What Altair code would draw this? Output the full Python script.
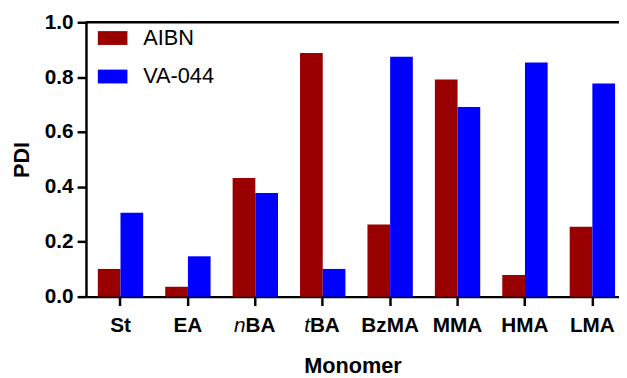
import altair as alt
import pandas as pd

monomers = ["St", "EA", "nBA", "tBA", "BzMA", "MMA", "HMA", "LMA"]
aibn = [0.101, 0.036, 0.432, 0.888, 0.263, 0.791, 0.079, 0.255]
va044 = [0.306, 0.147, 0.378, 0.101, 0.874, 0.691, 0.853, 0.777]
series = ["AIBN", "VA-044"]
colors = ["#990000", "#0000FF"]
y_ticks = [0.0, 0.2, 0.4, 0.6, 0.8, 1.0]
italic_monomers = ["nBA", "tBA"]
italic_prefix = ["n", "t"]
italic_rest = ["BA", "BA"]

FONT = "Liberation Sans"

rows = []
for m, a, v in zip(monomers, aibn, va044):
    rows.append({"monomer": m, "series": series[0], "value": a})
    rows.append({"monomer": m, "series": series[1], "value": v})
df = pd.DataFrame(rows)

xscale = alt.Scale(domain=monomers, paddingInner=0.327, paddingOuter=0.117, align=0.75)
yscale = alt.Scale(domain=[0, 1], nice=False)

bars = alt.Chart(df).mark_bar().encode(
    x=alt.X(
        "monomer:N",
        scale=xscale,
        axis=alt.Axis(
            title="Monomer",
            labelAngle=0,
            labelPadding=9,
            titlePadding=21,
            labelExpr="datum.value == 'nBA' || datum.value == 'tBA' ? '' : datum.label",
        ),
    ),
    xOffset=alt.XOffset("series:N", sort=series, scale=alt.Scale(paddingInner=0, paddingOuter=0)),
    y=alt.Y(
        "value:Q",
        scale=yscale,
        axis=alt.Axis(title="PDI", values=y_ticks, format=".1f", labelPadding=4, titlePadding=11),
    ),
    color=alt.Color(
        "series:N",
        scale=alt.Scale(domain=series, range=colors),
        legend=alt.Legend(
            title=None,
            orient="none",
            legendX=12,
            legendY=1,
            padding=0,
            symbolType="M-1,-0.467H1V0.467H-1Z",
            symbolSize=900,
            symbolStrokeWidth=0,
            symbolOpacity=1,
            labelFont=FONT,
            labelFontSize=22,
            labelColor="black",
            labelOffset=16,
            rowPadding=13,
        ),
    ),
)

top_rule = alt.Chart(pd.DataFrame({"y": [1.0]})).mark_rule(color="black", strokeWidth=2.5).encode(
    y=alt.Y("y:Q", scale=yscale)
)

offsets = {"nBA": -10, "tBA": -13}
text_layers = []
for m, p, r in zip(italic_monomers, italic_prefix, italic_rest):
    ldf = pd.DataFrame({"monomer": [m], "prefix": [p], "rest": [r]})
    base = alt.Chart(ldf)
    text_layers.append(
        base.mark_text(font=FONT, fontSize=21, fontStyle="italic", align="right", baseline="middle",
                       dx=offsets[m], dy=30, color="black").encode(
            x=alt.X("monomer:N", scale=xscale), y=alt.datum(0), text="prefix:N")
    )
    text_layers.append(
        base.mark_text(font=FONT, fontSize=21, fontWeight="bold", align="left", baseline="middle",
                       dx=offsets[m], dy=30, color="black").encode(
            x=alt.X("monomer:N", scale=xscale), y=alt.datum(0), text="rest:N")
    )

chart = alt.layer(bars, top_rule, *text_layers).properties(
    width=540,
    height=278,
    autosize=alt.AutoSizeParams(type="none"),
    padding={"left": 79, "top": 12, "right": 0, "bottom": 80},
).configure_view(stroke=None).configure_axis(
    domainColor="black",
    domainWidth=2.5,
    tickColor="black",
    tickWidth=2.5,
    tickSize=9,
    grid=False,
    labelFont=FONT,
    labelFontSize=21,
    labelFontWeight="bold",
    labelColor="black",
    titleFont=FONT,
    titleFontSize=22,
    titleFontWeight="bold",
    titleColor="black",
)

chart.save("out.html", embed_options={"renderer": "svg", "actions": False})
